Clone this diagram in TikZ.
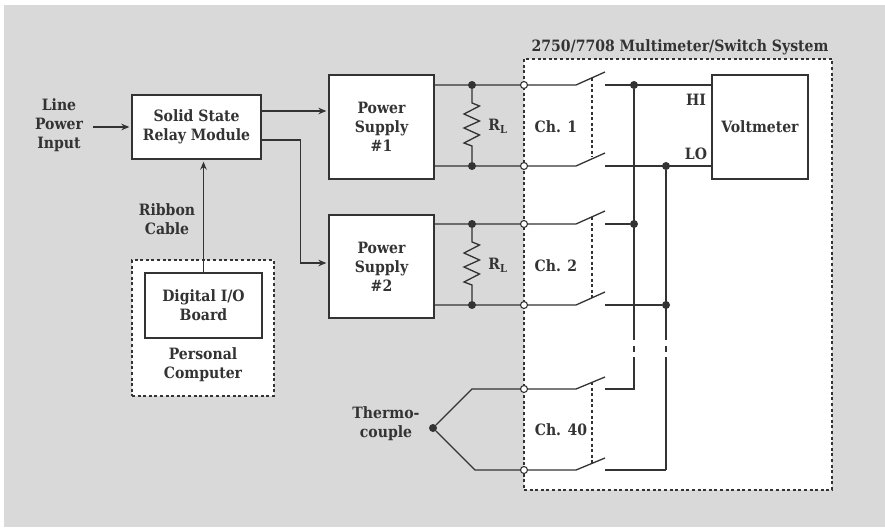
\documentclass[tikz,border=0pt]{standalone}
\usepackage{fontspec}
\setmainfont{DejaVu Serif Condensed}
\usetikzlibrary{
  arrows.meta,
  positioning,
  calc
}
\definecolor{panel}{RGB}{217,217,217}
\definecolor{ink}{RGB}{51,51,51}

\begin{document}
\begin{tikzpicture}[
  x=1pt, y=-1pt,
  every node/.style={font=\fontsize{15.6}{19}\selectfont\bfseries, text=ink, align=center, inner sep=0pt},
  boxnode/.style={draw=ink, fill=white, line width=1.3pt},
  frame/.style={draw=ink, fill=white, line width=1.3pt, dash pattern=on 3pt off 2.6pt},
  wire/.style={draw=ink, line width=1.3pt},
  gang/.style={draw=ink, line width=1.2pt, dash pattern=on 3pt off 2.6pt},
  arrowline/.style={draw=ink, line width=1.3pt, -{Stealth[length=8pt,width=6.5pt]}, shorten >=2pt},
  joint/.style={circle, fill=ink, minimum size=8pt},
  terminal/.style={circle, draw=ink, fill=white, line width=1.1pt, minimum size=7pt},
]

% page
\path[use as bounding box] (0,0) rectangle (885,527);
\fill[panel] (4,5) rectangle (885,527);

% dashed frames
\node[frame, minimum width=308pt, minimum height=431pt] (system) at (678,274.5) {};
\node[frame, minimum width=142pt, minimum height=136pt] (pc) at (203,328) {};
\node (systitle) at (680,47) {2750/7708 Multimeter/Switch System};

% blocks
\node[boxnode, minimum width=129pt, minimum height=64pt] (ssr) at (196.5,127) {Solid State\\Relay Module};
\node[boxnode, minimum width=105pt, minimum height=104pt] (ps1) at (381.5,127) {Power\\Supply\\\#1};
\node[boxnode, minimum width=105pt, minimum height=103pt] (ps2) at (381.5,266.5) {Power\\Supply\\\#2};
\node[boxnode, minimum width=96pt, minimum height=104pt] (volt) at (760,127) {Voltmeter};
\node[boxnode, minimum width=117pt, minimum height=65pt] (dio) at (203.5,305.5) {Digital I/O\\Board};

% labels
\node (line) at (59,125) {Line\\Power\\Input};
\node (ribbon) at (167,219.5) {Ribbon\\Cable};
\node (pclabel) at (203,364.5) {Personal\\Computer};
\node (thermo) at (386,423.5) {Thermo-\\couple};
\node (rl1) at (498,126) {R\textsubscript{L}};
\node (rl2) at (498,265) {R\textsubscript{L}};
\node (ch1) at (556,127) {Ch. 1};
\node (ch2) at (556,266) {Ch. 2};
\node (ch40) at (561,430) {Ch. 40};
\node (hi) at (696,100) {HI};
\node (lo) at (696,154) {LO};

% signal arrows
\coordinate (linefrom) at (93,127);
\draw[arrowline] (linefrom) -- (ssr.west);
\draw[arrowline] ([yshift=16pt]ssr.east) -- ([yshift=16pt]ps1.west);
\draw[arrowline] ([yshift=-13pt]ssr.east) -- ++(39,0) |- ([yshift=3.5pt]ps2.west);
\draw[arrowline] (dio.north) -- (dio.north |- ssr.south);

% gang lines
\coordinate (gang1t) at (592,78);
\coordinate (gang1b) at (592,157);
\coordinate (gang2t) at (592,217);
\coordinate (gang2b) at (592,298);
\coordinate (gang3t) at (592,382);
\coordinate (gang3b) at (592,463);
\draw[gang] (gang1t) -- (gang1b);
\draw[gang] (gang2t) -- (gang2b);
\draw[gang] (gang3t) -- (gang3b);

% joints and terminals
\node[joint] (j1t) at (472,85) {};
\node[joint] (j1b) at (472,166) {};
\node[joint] (j2t) at (472,224) {};
\node[joint] (j2b) at (472,305) {};
\node[joint] (hi1) at (634,85) {};
\node[joint] (lo1) at (666,166) {};
\node[joint] (hi2) at (634,224) {};
\node[joint] (lo2) at (666,305) {};
\node[joint] (tc) at (433,428) {};

% switch 1
\coordinate (s1ta) at (576,85);
\coordinate (s1tb) at (605,72);
\coordinate (s1tc) at (605,85);
\coordinate (s1ba) at (576,166);
\coordinate (s1bb) at (605,153);
\coordinate (s1bc) at (605,166);
% switch 2
\coordinate (s2ta) at (576,224);
\coordinate (s2tb) at (605,211);
\coordinate (s2tc) at (605,224);
\coordinate (s2ba) at (576,305);
\coordinate (s2bb) at (605,292);
\coordinate (s2bc) at (605,305);
% switch 40
\coordinate (s3ta) at (576,389);
\coordinate (s3tb) at (605,377);
\coordinate (s3tc) at (605,389);
\coordinate (s3ba) at (576,470);
\coordinate (s3bb) at (605,458);
\coordinate (s3bc) at (605,470);
\coordinate (tc1) at (472,389);
\coordinate (tc2) at (475,470);

\draw[wire] (s1ta -| ps1.east) -- (s1ta) -- (s1tb);
\draw[wire] (s1ba -| ps1.east) -- (s1ba) -- (s1bb);
\draw[wire] (s2ta -| ps2.east) -- (s2ta) -- (s2tb);
\draw[wire] (s2ba -| ps2.east) -- (s2ba) -- (s2bb);
\draw[wire] (tc) -- (tc1) -- (s3ta) -- (s3tb);
\draw[wire] (tc) -- (tc2) -- (s3ba) -- (s3bb);

\draw[wire] (s1tc) -- (s1tc -| volt.west);
\draw[wire] (s1bc) -- (s1bc -| volt.west);
\draw[wire] (s2tc) -- (hi2);
\draw[wire] (s2bc) -- (lo2);
\draw[wire] (s3bc) -- (s3bc -| lo2);

% common lines with their breaks
\coordinate (hibreak1) at (634,340);
\coordinate (hibreak2) at (634,346);
\coordinate (hibreak3) at (634,352);
\coordinate (hibreak4) at (634,357);
\coordinate (lobreak1) at (666,340);
\coordinate (lobreak2) at (666,346);
\coordinate (lobreak3) at (666,352);
\coordinate (lobreak4) at (666,357);
\draw[wire] (hi1) -- (hibreak1);
\draw[wire] (hibreak2) -- (hibreak3);
\draw[wire] (hibreak4) -- (hibreak4 |- s3tc) -- (s3tc);
\draw[wire] (lo1) -- (lobreak1);
\draw[wire] (lobreak2) -- (lobreak3);
\draw[wire] (lobreak4) -- (lobreak4 |- s3bc);

% load resistors
\draw[wire] (j1t) -- (472,103) -- (479.5,106) -- (464,114) -- (479.5,121) -- (464,128) -- (479.5,135) -- (464,143) -- (472,146) -- (j1b);
\draw[wire] (j2t) -- (472,242) -- (479.5,245) -- (464,253) -- (479.5,260) -- (464,267) -- (479.5,274) -- (464,282) -- (472,285) -- (j2b);

\node[terminal] (t1t) at (524,85) {};
\node[terminal] (t1b) at (524,166) {};
\node[terminal] (t2t) at (524,224) {};
\node[terminal] (t2b) at (524,305) {};
\node[terminal] (t3t) at (524,389) {};
\node[terminal] (t3b) at (524,470) {};

\end{tikzpicture}
\end{document}
